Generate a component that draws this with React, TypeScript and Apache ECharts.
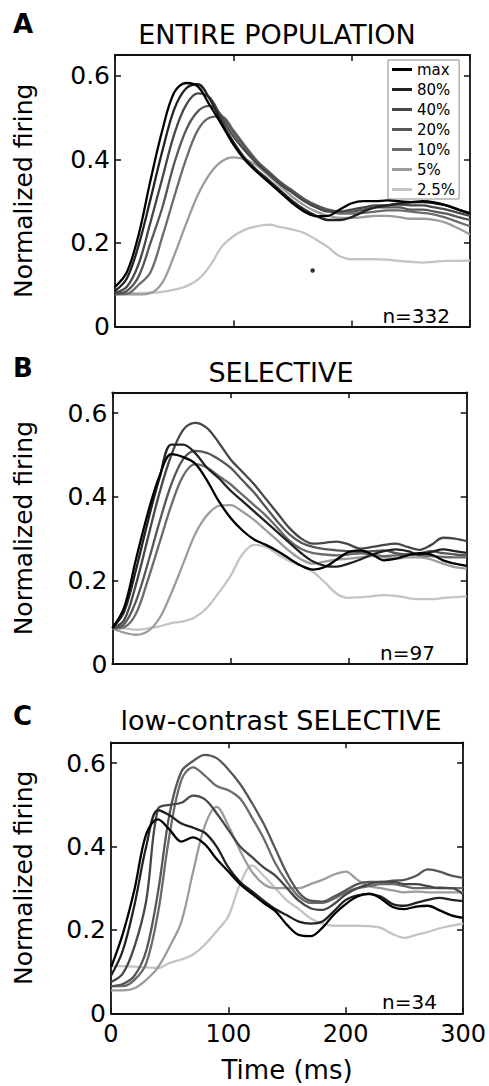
import React, { useEffect, useRef } from 'react';
import * as echarts from 'echarts';

// ---------- data ----------
const TIME = [0, 10, 20, 30, 40, 50, 60, 70, 80, 90, 100, 110, 120, 130, 140, 150, 160, 170, 180, 190, 200, 210, 220, 230, 240, 250, 260, 270, 280, 290, 300];
const LEVELS = ['max', '80%', '40%', '20%', '10%', '5%', '2.5%'];
const X_TICKS = [0, 100, 200, 300];
const Y_TICKS = [0, 0.2, 0.4, 0.6];
const PANEL_LETTERS = ['A', 'B', 'C'];
const PANEL_TITLES = ['ENTIRE POPULATION', 'SELECTIVE', 'low-contrast SELECTIVE'];
const PANEL_COUNTS = ['n=332', 'n=97', 'n=34'];
const DOT_A = [167, 0.134];

// Panel A – entire population
const A_MAX = [0.095, 0.13, 0.22, 0.35, 0.47, 0.56, 0.583, 0.575, 0.53, 0.484, 0.436, 0.398, 0.37, 0.345, 0.32, 0.295, 0.275, 0.264, 0.265, 0.28, 0.295, 0.3, 0.3, 0.302, 0.3, 0.298, 0.3, 0.297, 0.29, 0.28, 0.27];
const A_80 = [0.085, 0.115, 0.195, 0.305, 0.42, 0.52, 0.57, 0.58, 0.545, 0.49, 0.442, 0.402, 0.374, 0.35, 0.325, 0.3, 0.28, 0.265, 0.255, 0.255, 0.262, 0.275, 0.285, 0.29, 0.295, 0.297, 0.298, 0.295, 0.29, 0.28, 0.272];
const A_40 = [0.08, 0.095, 0.15, 0.25, 0.355, 0.46, 0.53, 0.558, 0.548, 0.5, 0.455, 0.42, 0.39, 0.365, 0.34, 0.32, 0.3, 0.285, 0.275, 0.275, 0.28, 0.285, 0.29, 0.29, 0.292, 0.29, 0.29, 0.285, 0.28, 0.272, 0.265];
const A_20 = [0.078, 0.085, 0.12, 0.2, 0.285, 0.39, 0.47, 0.515, 0.528, 0.505, 0.465, 0.428, 0.395, 0.37, 0.345, 0.325, 0.305, 0.29, 0.28, 0.275, 0.275, 0.28, 0.285, 0.285, 0.285, 0.28, 0.28, 0.275, 0.27, 0.262, 0.255];
const A_10 = [0.077, 0.078, 0.1, 0.13, 0.215, 0.31, 0.4, 0.47, 0.5, 0.503, 0.47, 0.432, 0.397, 0.37, 0.345, 0.325, 0.305, 0.29, 0.278, 0.27, 0.27, 0.272, 0.275, 0.278, 0.278, 0.275, 0.272, 0.268, 0.26, 0.25, 0.24];
const A_5 = [0.078, 0.077, 0.077, 0.08, 0.105, 0.17, 0.245, 0.315, 0.365, 0.395, 0.405, 0.4, 0.385, 0.36, 0.335, 0.31, 0.29, 0.275, 0.265, 0.26, 0.26, 0.262, 0.265, 0.265, 0.262, 0.258, 0.258, 0.255, 0.248, 0.235, 0.22];
const A_25 = [0.08, 0.08, 0.08, 0.081, 0.083, 0.088, 0.096, 0.112, 0.144, 0.19, 0.216, 0.232, 0.24, 0.244, 0.238, 0.232, 0.224, 0.208, 0.19, 0.168, 0.161, 0.161, 0.161, 0.16, 0.157, 0.155, 0.153, 0.155, 0.157, 0.157, 0.158];

// Panel B – selective
const B_MAX = [0.086, 0.135, 0.25, 0.36, 0.45, 0.502, 0.495, 0.48, 0.44, 0.39, 0.35, 0.32, 0.298, 0.285, 0.27, 0.252, 0.235, 0.226, 0.232, 0.25, 0.268, 0.272, 0.262, 0.248, 0.252, 0.26, 0.265, 0.262, 0.248, 0.24, 0.235];
const B_80 = [0.086, 0.125, 0.225, 0.34, 0.445, 0.525, 0.525, 0.505, 0.47, 0.445, 0.415, 0.39, 0.365, 0.34, 0.315, 0.29, 0.265, 0.245, 0.235, 0.233, 0.24, 0.25, 0.262, 0.27, 0.274, 0.27, 0.262, 0.268, 0.274, 0.27, 0.266];
const B_40 = [0.085, 0.105, 0.19, 0.3, 0.41, 0.5, 0.56, 0.577, 0.565, 0.53, 0.49, 0.46, 0.43, 0.395, 0.36, 0.325, 0.3, 0.288, 0.29, 0.293, 0.286, 0.276, 0.28, 0.285, 0.288, 0.28, 0.273, 0.285, 0.302, 0.3, 0.294];
const B_20 = [0.085, 0.095, 0.15, 0.24, 0.34, 0.43, 0.49, 0.51, 0.505, 0.49, 0.47, 0.44, 0.41, 0.375, 0.34, 0.31, 0.29, 0.28, 0.275, 0.272, 0.27, 0.268, 0.27, 0.272, 0.265, 0.262, 0.265, 0.27, 0.265, 0.262, 0.26];
const B_10 = [0.085, 0.088, 0.12, 0.2, 0.29, 0.38, 0.45, 0.478, 0.47, 0.45, 0.43, 0.405, 0.38, 0.355, 0.325, 0.295, 0.275, 0.265, 0.262, 0.26, 0.262, 0.265, 0.262, 0.258, 0.26, 0.262, 0.26, 0.258, 0.256, 0.255, 0.255];
const B_5 = [0.085, 0.075, 0.07, 0.078, 0.11, 0.17, 0.24, 0.31, 0.355, 0.378, 0.38, 0.365, 0.345, 0.32, 0.295, 0.27, 0.25, 0.24, 0.245, 0.25, 0.252, 0.255, 0.258, 0.255, 0.252, 0.255, 0.255, 0.25, 0.24, 0.232, 0.228];
const B_25 = [0.085, 0.085, 0.082, 0.085, 0.09, 0.098, 0.102, 0.112, 0.134, 0.17, 0.21, 0.262, 0.285, 0.28, 0.262, 0.246, 0.235, 0.22, 0.195, 0.168, 0.158, 0.16, 0.162, 0.165, 0.163, 0.158, 0.155, 0.155, 0.158, 0.16, 0.162];

// Panel C – low-contrast selective
const C_MAX = [0.11, 0.19, 0.297, 0.43, 0.465, 0.44, 0.412, 0.422, 0.405, 0.37, 0.34, 0.31, 0.287, 0.265, 0.245, 0.212, 0.188, 0.185, 0.205, 0.237, 0.262, 0.28, 0.287, 0.275, 0.255, 0.25, 0.256, 0.258, 0.247, 0.235, 0.229];
const C_80 = [0.09, 0.15, 0.26, 0.4, 0.487, 0.475, 0.455, 0.445, 0.433, 0.4, 0.35, 0.315, 0.293, 0.27, 0.25, 0.235, 0.22, 0.215, 0.22, 0.245, 0.272, 0.283, 0.286, 0.28, 0.262, 0.258, 0.265, 0.272, 0.277, 0.272, 0.269];
const C_40 = [0.075, 0.095, 0.16, 0.27, 0.49, 0.5, 0.505, 0.522, 0.513, 0.48, 0.44, 0.4, 0.375, 0.35, 0.33, 0.3, 0.27, 0.252, 0.248, 0.262, 0.285, 0.3, 0.31, 0.315, 0.315, 0.31, 0.31, 0.305, 0.3, 0.3, 0.285];
const C_20 = [0.065, 0.07, 0.09, 0.15, 0.29, 0.48, 0.58, 0.605, 0.62, 0.612, 0.585, 0.55, 0.505, 0.455, 0.395, 0.335, 0.29, 0.27, 0.268, 0.28, 0.295, 0.31, 0.315, 0.315, 0.318, 0.32, 0.33, 0.345, 0.34, 0.33, 0.325];
const C_10 = [0.065, 0.065, 0.08, 0.12, 0.24, 0.43, 0.56, 0.59, 0.57, 0.545, 0.535, 0.515, 0.47, 0.42, 0.36, 0.315, 0.28, 0.265, 0.265, 0.275, 0.29, 0.3, 0.305, 0.31, 0.31, 0.305, 0.3, 0.3, 0.302, 0.3, 0.3];
const C_5 = [0.055, 0.055, 0.06, 0.08, 0.11, 0.16, 0.22, 0.34, 0.45, 0.495, 0.45, 0.39, 0.34, 0.31, 0.3, 0.3, 0.3, 0.31, 0.32, 0.333, 0.34, 0.32, 0.305, 0.3, 0.295, 0.29, 0.292, 0.29, 0.29, 0.29, 0.29];
const C_25 = [0.113, 0.113, 0.112, 0.11, 0.109, 0.121, 0.129, 0.141, 0.165, 0.197, 0.233, 0.31, 0.355, 0.33, 0.3, 0.27, 0.25, 0.228, 0.215, 0.21, 0.21, 0.21, 0.209, 0.205, 0.19, 0.181, 0.188, 0.195, 0.204, 0.21, 0.215];

const PANELS = [
  [A_MAX, A_80, A_40, A_20, A_10, A_5, A_25],
  [B_MAX, B_80, B_40, B_20, B_10, B_5, B_25],
  [C_MAX, C_80, C_40, C_20, C_10, C_5, C_25],
];

// ---------- styling ----------
const COLORS = ['#000000', '#222222', '#474747', '#575757', '#6b6b6b', '#9c9c9c', '#c4c4c4'];
const FONT = 'DejaVu Sans';
const GRIDS = [
  { left: 115, top: 55, width: 355, height: 271.5 },
  { left: 112.3, top: 392.3, width: 354.4, height: 271.7 },
  { left: 111, top: 742.3, width: 355, height: 271 },
];
const NAME_GAPS = [79, 76, 75];
const LETTER_Y = [24, 367.5, 716];
const TITLE_POS = [[277, 34], [281, 372], [281, 720]];
const COUNT_POS = [[450, 315.5], [435, 653], [437, 1001.5]];

const fmtY = (v: number) => {
  const t = Y_TICKS.find((y) => Math.abs(y - v) < 1e-6);
  if (t === undefined) return '';
  return t === 0 ? '0' : t.toFixed(1);
};
const fmtX = (v: number) => (X_TICKS.indexOf(v) >= 0 ? String(v) : '');

export default function App() {
  const ref = useRef<HTMLDivElement>(null);

  useEffect(() => {
    if (!ref.current) return;
    const chart = echarts.init(ref.current, undefined, { renderer: 'svg' });

    const axisLine = { show: true, onZero: false, lineStyle: { color: '#111', width: 1.8 } };
    const axisTick = { show: true, inside: true, length: 6, lineStyle: { color: '#111', width: 1.5 } };

    const xAxis: any[] = [];
    const yAxis: any[] = [];
    const series: any[] = [];

    GRIDS.forEach((_, p) => {
      const last = p === GRIDS.length - 1;
      xAxis.push({
        type: 'value', gridIndex: p, position: 'bottom', min: 0, max: 300, interval: 100,
        axisLine, axisTick, splitLine: { show: false },
        axisLabel: { show: last, formatter: fmtX, fontFamily: FONT, fontSize: 24, color: '#000', margin: 9 },
        name: last ? 'Time (ms)' : '', nameLocation: 'middle', nameGap: 44,
        nameTextStyle: { fontFamily: FONT, fontSize: 26, color: '#000' },
      });
      xAxis.push({
        type: 'value', gridIndex: p, position: 'top', min: 0, max: 300, interval: 100,
        axisLine, axisTick, splitLine: { show: false }, axisLabel: { show: false },
      });
      yAxis.push({
        type: 'value', gridIndex: p, position: 'left', min: 0, max: 0.65, interval: 0.2,
        axisLine, axisTick, splitLine: { show: false },
        axisLabel: { formatter: fmtY, fontFamily: FONT, fontSize: 25, color: '#000', margin: 5 },
        name: 'Normalized firing', nameLocation: 'middle', nameGap: NAME_GAPS[p], nameRotate: 90,
        nameTextStyle: { fontFamily: FONT, fontSize: 25, color: '#000' },
      });
      yAxis.push({
        type: 'value', gridIndex: p, position: 'right', min: 0, max: 0.65, interval: 0.2,
        axisLine, axisTick, splitLine: { show: false }, axisLabel: { show: false },
      });

      const panel = PANELS[p];
      for (let j = LEVELS.length - 1; j >= 0; j--) {
        series.push({
          type: 'line', name: LEVELS[j], xAxisIndex: 2 * p, yAxisIndex: 2 * p,
          data: TIME.map((t, k) => [t, panel[j][k]]),
          showSymbol: false, symbol: 'none', smooth: 0.35, silent: true,
          lineStyle: { color: COLORS[j], width: 2.3 }, itemStyle: { color: COLORS[j] },
          z: 2 + (LEVELS.length - j),
        });
      }
    });

    series.push({
      type: 'scatter', name: 'dot', xAxisIndex: 0, yAxisIndex: 0, data: [DOT_A],
      symbolSize: 4.5, itemStyle: { color: '#000' }, silent: true, z: 20,
    });

    const graphic: any[] = [];
    PANEL_LETTERS.forEach((letter, p) => {
      graphic.push({
        type: 'text', x: 13, y: LETTER_Y[p], silent: true,
        style: { text: letter, font: `bold 26px "${FONT}"`, fill: '#000', align: 'left', verticalAlign: 'middle', textAlign: 'left', textVerticalAlign: 'middle' },
      });
      graphic.push({
        type: 'text', x: TITLE_POS[p][0], y: TITLE_POS[p][1], silent: true,
        style: { text: PANEL_TITLES[p], font: `27px "${FONT}"`, fill: '#000', align: 'center', verticalAlign: 'middle', textAlign: 'center', textVerticalAlign: 'middle' },
      });
      graphic.push({
        type: 'text', x: COUNT_POS[p][0], y: COUNT_POS[p][1], silent: true,
        style: { text: PANEL_COUNTS[p], font: `20px "${FONT}"`, fill: '#000', align: 'right', verticalAlign: 'middle', textAlign: 'right', textVerticalAlign: 'middle' },
      });
    });

    chart.setOption({
      animation: false,
      backgroundColor: '#ffffff',
      textStyle: { fontFamily: FONT },
      grid: GRIDS.map((g) => ({ ...g, containLabel: false, show: false })),
      xAxis,
      yAxis,
      series,
      legend: {
        data: LEVELS, orient: 'vertical', left: 388, top: 60,
        icon: 'rect', itemWidth: 20, itemHeight: 3, itemGap: 5,
        padding: [2, 4, 2, 4], borderColor: '#8a8a8a', borderWidth: 1, backgroundColor: '#ffffff',
        selectedMode: false,
        textStyle: { fontFamily: FONT, fontSize: 15, lineHeight: 15, color: '#000' },
      },
      graphic,
    });

    return () => chart.dispose();
  }, []);

  return <div ref={ref} style={{ position: 'absolute', left: 0, top: 0, width: 489, height: 1086 }} />;
}
